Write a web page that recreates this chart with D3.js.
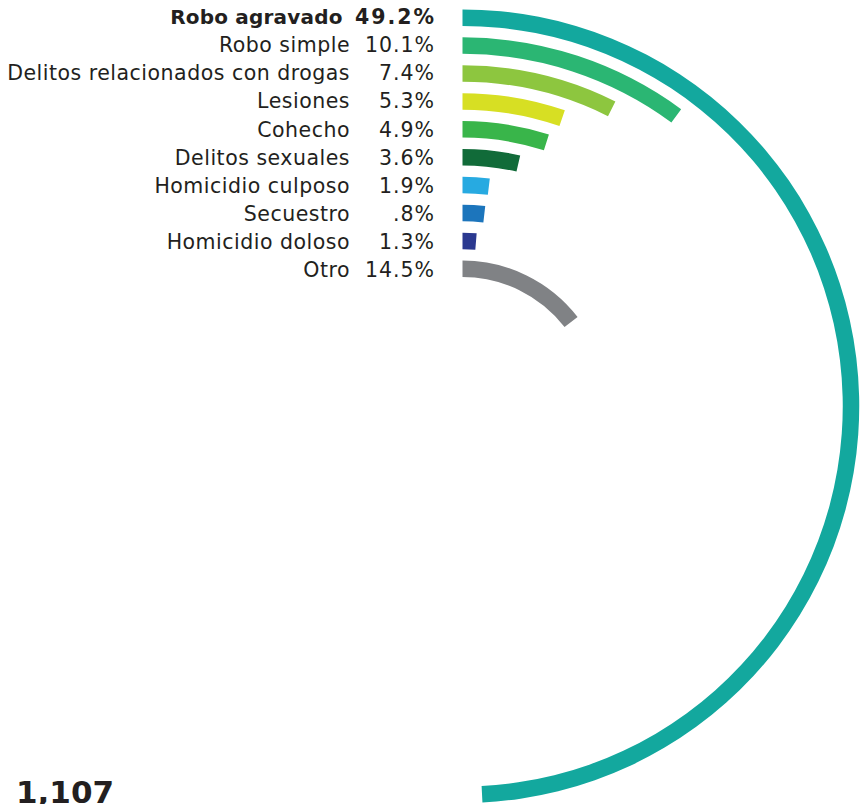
<!DOCTYPE html>
<html><head><meta charset="utf-8">
<script src="https://cdn.jsdelivr.net/npm/d3@7"></script>
<style>
html,body{margin:0;padding:0;background:#fff;overflow:hidden;}
svg{display:block;}
text{font-family:"DejaVu Sans",Verdana,sans-serif;fill:#231f20;}
</style></head><body>
<script>
const categories = ["Robo agravado","Robo simple","Delitos relacionados con drogas","Lesiones","Cohecho","Delitos sexuales","Homicidio culposo","Secuestro","Homicidio doloso","Otro"];
const values = [49.2,10.1,7.4,5.3,4.9,3.6,1.9,1.8,1.3,14.5];
const pctLabels = ["49.2%","10.1%","7.4%","5.3%","4.9%","3.6%","1.9%",".8%","1.3%","14.5%"];
const colors = ["#13a89e","#2bb673","#8dc63f","#d7df23","#39b54a","#116b39","#27aae1","#1c75bc","#2b3990","#808285"];
const total = "1,107";

const W = 863, H = 804;
const cx = 462.5, cy = 406.2;
const bandW = 16.5;
const svg = d3.select("body").append("svg").attr("width", W).attr("height", H);

const ang = d3.scaleLinear().domain([0,100]).range([0, 2*Math.PI]);
const n = categories.length;
const rad = d3.scaleLinear().domain([0, n-1]).range([388.5, 388.5 - 27.9*(n-1)]);
const baseY = d3.scaleLinear().domain([0, n-1]).range([24, 277.3]);

const g = svg.append("g").attr("transform", `translate(${cx},${cy})`);
const arc = d3.arc()
  .innerRadius((d,i)=>rad(i)-bandW/2)
  .outerRadius((d,i)=>rad(i)+bandW/2)
  .startAngle(0)
  .endAngle(d=>ang(d));

g.selectAll("path").data(values).join("path")
  .attr("d", (d,i)=>arc(d,i))
  .attr("fill", (d,i)=>colors[i]);

const lab = svg.append("g");
categories.forEach((c,i)=>{
  const y = baseY(i);
  const bold = i===0;
  const nls = bold ? 0.2 : 0.5;
  lab.append("text").attr("x", (bold ? 342.5 : 349.5) + nls).attr("y", y)
    .attr("text-anchor","end").attr("font-size", bold ? 20 : 20.5)
    .attr("letter-spacing", nls)
    .attr("font-weight", bold? "bold":"normal").text(c);
  const ls = bold ? 2 : 1;
  lab.append("text").attr("x", 434 + ls).attr("y", y)
    .attr("text-anchor","end").attr("font-size", bold ? 20.5 : 20.5)
    .attr("letter-spacing", ls)
    .attr("font-weight", bold? "bold":"normal").text(pctLabels[i]);
});

svg.append("text").attr("x", 16).attr("y", 803).attr("font-size", 31)
  .attr("font-weight","bold").text(total);
</script>
</body></html>
